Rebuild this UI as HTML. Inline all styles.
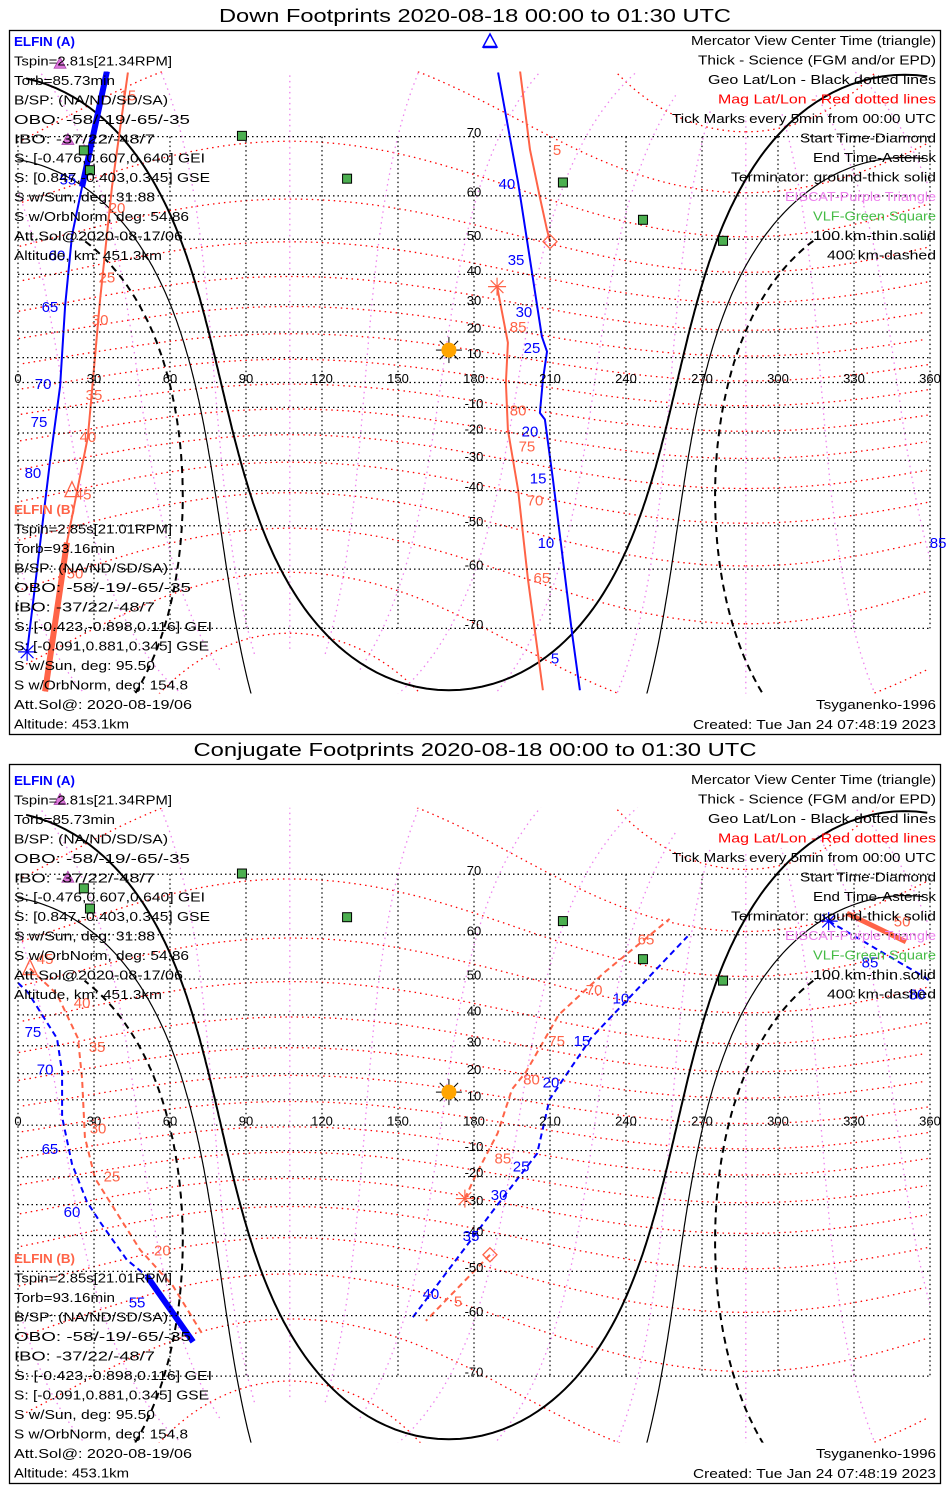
<!DOCTYPE html>
<html><head><meta charset="utf-8"><title>ELFIN footprints</title>
<style>
html,body{margin:0;padding:0;background:#fff;width:950px;height:1500px;overflow:hidden;}
svg{display:block;font-family:"Liberation Sans",sans-serif;}
</style></head>
<body>
<svg id="chart" width="950" height="1500" viewBox="0 0 950 1500" xmlns="http://www.w3.org/2000/svg">
<rect x="0" y="0" width="950" height="1500" fill="#fff"/>
<text x="475" y="22" text-anchor="middle" font-size="18" textLength="512" lengthAdjust="spacingAndGlyphs">Down Footprints 2020-08-18 00:00 to 01:30 UTC</text>
<text x="475" y="756" text-anchor="middle" font-size="18" textLength="563" lengthAdjust="spacingAndGlyphs">Conjugate Footprints 2020-08-18 00:00 to 01:30 UTC</text>
<rect x="9.5" y="30.5" width="931" height="704" fill="none" stroke="#000" stroke-width="1.3"/>
<rect x="9.5" y="764.5" width="931" height="719" fill="none" stroke="#000" stroke-width="1.3"/>
<polygon points="490,34 483,47 497,47" fill="none" stroke="#0000ff" stroke-width="1.5"/>
<line x1="483" y1="47" x2="497" y2="47" stroke="#0000ff" stroke-width="2.5"/>
<defs>
<clipPath id="clip1"><rect x="18" y="71.5" width="912" height="622"/></clipPath>
<clipPath id="clip2"><rect x="18" y="807.8" width="912" height="634.8"/></clipPath>
</defs>
<g id="panel1"></g>
<g id="panel2"></g>
</svg>
<script>
// ---------- axis data ----------
const lonTicks = [0,30,60,90,120,150,180,210,240,270,300,330,360];
const latTicks = [70,60,50,40,30,20,10,-10,-20,-30,-40,-50,-60,-70];

// ---------- Down footprints (lon, lat in degrees) ----------
const downAsciLon = [35.1,25.3];
const downAsciLat = [77.3,61.8];
const downAleftLon = [35.1,25.3,21.3,18.6,16.6,12.6,3.6];
const downAleftLat = [77.3,61.8,51,29.5,-1.5,-30.7,-73];
const downArightLon = [189.5,197.4,206.8,208.8,207.2,206,208,211.2,218.7,221.8];
const downArightLat = [77.2,62.6,18.2,12.4,1.1,-12.2,-14.8,-36.6,-70.6,-77];
const downBtopLon = [198.2,202.1,206.1,208.8,210];
const downBtopLat = [77.3,68.1,59.5,52.4,49.4];
const downBleftLon = [43.4,37.1,32.4,27.6,19.3,10.7];
const downBleftLat = [77.2,61.8,31.8,-21.4,-54.2,-77.1];
const downBsciLon = [19.3,10.7];
const downBsciLat = [-54.2,-77.1];
const downBbotLon = [189.1,193.4,192.6,193.4,197.4,201.3,207.2];
const downBbotLat = [36.1,15.9,0,-18.8,-39.8,-62.1,-77];
const downAlabels = ["5","10","15","20","25","30","35","40","55","60","65","70","75","80","85"];
const downAlabelLon = [212,208.4,205.3,202.1,202.9,199.7,196.6,193,19.7,15.4,12.6,9.9,8.3,5.9,363.2];
const downAlabelLat = [-73.7,-54.2,-36,-19.2,14,27.6,44.4,62.4,63.2,45.8,29.3,-0.5,-15.6,-34.2,-54.2];
const downBlabels = ["5","15","20","25","30","35","40","45","50","65","70","75","80","85"];
const downBlabelLon = [212.8,43.4,39.1,35.1,32.4,30,27.6,25.7,22.5,206.8,204.1,200.9,197.4,197.4];
const downBlabelLat = [68.1,75,57.6,39.2,24.6,-4.9,-21.4,-41,-60.8,-61.7,-42.8,-24.8,-11,22];
const downStart = [210,49.4];
const downEndB = [189.1,36.1];
const downEndA = [3.6,-73];
const downTriB = [21.3,-40];

// ---------- Conjugate footprints ----------
const conjArightLon = [155.9,189.3,204.9,209.8,226.2,264.3];
const conjArightLat = [-60.3,-30,-11.2,10.1,32.6,59.7];
const conjAleftLon = [0,3.9,15.4,17.4,17.4,21.3,27.2,32.4,43,50.9];
const conjAleftLat = [49,46.5,32.5,20.6,3.3,-15.2,-29,-35.8,-47,-51.2];
const conjAsciLon = [50.9,69.1];
const conjAsciLat = [-51.2,-64.8];
const conjAtopLon = [320,357.6,360];
const conjAtopLat = [62.6,50.6,49.5];
const conjBrightLon = [176.4,180.8,189.3,195,200.5,213.4,231.7,257.2];
const conjBrightLat = [-27.9,-19.2,-3.2,14.1,20.6,40,51.8,63];
const conjBstartLon = [186.3,161];
const conjBstartLat = [-45.6,-61];
const conjBleftLon = [4.7,15.4,23.7,25.3,26.4,30.4,48.2,61.2,73];
const conjBleftLat = [52.6,46,32.5,18,-4.8,-20.6,-44.2,-53.6,-63.6];
const conjBsciLon = [327.2,350.5];
const conjBsciLat = [64,58.6];
const conjAlabels = ["10","15","20","25","30","35","40","55","60","65","70","75","80","85"];
const conjAlabelLon = [238,222.6,210.4,198.6,189.9,178.8,163,47,21.3,12.6,10.7,5.9,354.9,336.3];
const conjAlabelLat = [45,31.8,16.8,-16,-26.5,-40,-55.3,-57.2,-32.4,-9.2,21.8,34.8,46,54.2];
const conjBlabels = ["5","20","25","30","35","40","45","50","65","70","75","80","85"];
const conjBlabelLon = [173.7,57,37.1,31.6,31.2,25.3,10.7,349,247.9,227.4,212.6,202.7,191.4];
const conjBlabelLat = [-57,-44.2,-19.8,-1.2,29.8,43.6,55,62.6,59.2,47.3,31.8,18,-12.8];
const conjStart = [186.3,-45.6];
const conjEndB = [176.4,-27.9];
const conjEndA = [320,62.6];
const conjTriB = [4.7,52.6];

// ---------- sites ----------
const vlfLon = [88.4,129.9,215.1,246.7,278.3,26,28.4];
const vlfLat = [70.1,63.3,62.6,54.8,49.6,68,64.8];
const eiscatLon = [16.6,19.7];
const eiscatLat = [78,69.6];
const subsolar = [13,170.1];

// ---------- text ----------
const infoA = ["ELFIN (A)","Tspin=2.81s[21.34RPM]","Torb=85.73min","B/SP: (NA/ND/SD/SA)","OBO: -58/-19/-65/-35","IBO: -37/22/-48/7","S: [-0.476,0.607,0.640] GEI","S: [0.847,-0.403,0.345] GSE","S w/Sun, deg: 31.88","S w/OrbNorm, deg: 54.86","Att.Sol@2020-08-17/06","Altitude, km: 451.3km"];
const infoAW = [61,158,101,154,176,141,191,196,141,175,169,148];
const infoB = ["ELFIN (B)","Tspin=2.85s[21.01RPM]","Torb=93.16min","B/SP: (NA/ND/SD/SA)","OBO: -58/-19/-65/-35","IBO: -37/22/-48/7","S: [-0.423,-0.898,0.116] GEI","S: [-0.091,0.881,0.345] GSE","S w/Sun, deg: 95.50","S w/OrbNorm, deg: 154.8","Att.Sol@: 2020-08-19/06","Altitude: 453.1km"];
const infoBW = [61,158,101,154,177,141,198,195,141,174,178,115];
const legend = ["Mercator View Center Time (triangle)","Thick - Science (FGM and/or EPD)","Geo Lat/Lon - Black dotted lines","Mag Lat/Lon - Red dotted lines","Tick Marks every 5min from 00:00 UTC","Start Time-Diamond","End Time-Asterisk","Terminator: ground-thick solid","EISCAT-Purple Triangle","VLF-Green Square","100 km-thin solid","400 km-dashed"];
const legendW = [245,238,228,218,264,136,123,205,151,123,123,109];
const legendC = ["#000","#000","#000","#ff0000","#000","#000","#000","#000","#ee82ee","#44bb44","#000","#000"];

const NS = "http://www.w3.org/2000/svg";
const BLUE = "#0000ff", ORANGE = "#ff6347";
const D2R = Math.PI/180;

function mk(tag, attrs, parent){
  const e = document.createElementNS(NS, tag);
  for (const k in attrs) e.setAttribute(k, attrs[k]);
  parent.appendChild(e);
  return e;
}
function proj(y0, k){
  return {
    x: lon => 18 + lon*912/360,
    y: lat => { const l = Math.max(-80, Math.min(80, lat)); return y0 - k*Math.log(Math.tan(Math.PI/4 + l*D2R/2)); }
  };
}
function pathD(lons, lats, P){
  let d = "";
  for (let i=0;i<lons.length;i++){
    const brk = i===0 || Math.abs(lons[i]-lons[i-1])>180 || lats[i]===null || lats[i-1]===null;
    if (lats[i]===null) continue;
    d += (brk ? "M" : "L") + P.x(lons[i]).toFixed(1) + "," + P.y(lats[i]).toFixed(1);
  }
  return d;
}
function mag2geo(mlat, mlon){
  const a = mlat*D2R, b = mlon*D2R;
  const x = Math.cos(a)*Math.cos(b), y = Math.cos(a)*Math.sin(b), z = Math.sin(a);
  const th = (90-80.65)*D2R, ph = 287.3*D2R;
  const x1 = x*Math.cos(th) + z*Math.sin(th), z1 = -x*Math.sin(th) + z*Math.cos(th), y1 = y;
  const x2 = x1*Math.cos(ph) - y1*Math.sin(ph), y2 = x1*Math.sin(ph) + y1*Math.cos(ph);
  let lon = Math.atan2(y2, x2)/D2R; lon = (lon+360)%360;
  return [Math.asin(z1)/D2R, lon];
}
function terminator(dist, maxLat){
  const la1 = subsolar[0]*D2R, lo1 = subsolar[1];
  const D = dist*D2R, lons = [], lats = [];
  for (let a=0;a<=360;a+=1){
    const al = a*D2R;
    const la2 = Math.asin(Math.sin(la1)*Math.cos(D) + Math.cos(la1)*Math.sin(D)*Math.cos(al));
    const dl = Math.atan2(Math.sin(al)*Math.sin(D)*Math.cos(la1), Math.cos(D) - Math.sin(la1)*Math.sin(la2))/D2R;
    let lon = ((lo1 + dl)%360 + 360)%360;
    const lat = la2/D2R;
    lons.push(lon);
    lats.push(lat > maxLat ? null : lat);
  }
  return [lons, lats];
}

function drawPanel(g, P, clipId, o){
  const map = mk("g", {"clip-path":"url(#"+clipId+")"}, g);
  
  
  for (let m=-80;m<=80;m+=10){
    const lons=[], lats=[];
    for (let ml=0; ml<=360; ml+=2){ const r = mag2geo(m, ml); lats.push(r[0]); lons.push(r[1]); }
    const e = mk("path", {d: pathD(lons,lats,P), fill:"none", stroke:"#ff0000", "stroke-width":1.3, "stroke-dasharray":"1.5 4"}, map);
    
    
  }
  for (let ml=0; ml<360; ml+=30){
    const lons=[], lats=[];
    for (let m=-82;m<=82;m+=2){ const r = mag2geo(m, ml); lats.push(r[0]); lons.push(r[1]); }
    const e = mk("path", {d: pathD(lons,lats,P), fill:"none", stroke:"#ee82ee", "stroke-width":1.3, "stroke-dasharray":"1.5 4"}, map);
    
    
  }
  latTicks.forEach(lt => {
    const e = mk("line", {x1:18, x2:930, y1:P.y(lt), y2:P.y(lt), stroke:"#000", "stroke-width":1.2, "stroke-dasharray":"1.5 3"}, g);
    
    
  });
  [P.y(0)].forEach(yy => {
    const e = mk("line", {x1:18, x2:930, y1:yy, y2:yy, stroke:"#000", "stroke-width":1.2, "stroke-dasharray":"1.5 3"}, g);
    
    
  });
  lonTicks.forEach(ln => {
    const e = mk("line", {x1:P.x(ln), x2:P.x(ln), y1:P.y(70), y2:P.y(-70), stroke:"#000", "stroke-width":1.2, "stroke-dasharray":"1.5 3"}, g);
    
    
    const t = mk("text", {x:P.x(ln), y:P.y(0)+0.5, "text-anchor":"middle", "font-size":13}, g);
    t.textContent = String(ln);
    
    
  });
  latTicks.forEach(lt => {
    const t = mk("text", {x:474, y:P.y(lt)+0.5, "text-anchor":"middle", "font-size":13}, g);
    t.textContent = String(lt);
    
    
  });
  const terms = [[90,90,2,null,'terminator-ground'],[100.1,90,1.2,null,'terminator-100km'],[109.8,50,2,"7 5",'terminator-400km']];
  terms.forEach(tm => {
    const r = terminator(tm[0], tm[1]);
    const e = mk("path", {d: pathD(r[0], r[1], P), fill:"none", stroke:"#000", "stroke-width":tm[2]}, map);
    if (tm[3]) e.setAttribute("stroke-dasharray", tm[3]);
    
    
  });
  const sx = P.x(subsolar[1]), sy = P.y(subsolar[0]);
  for (let i=0;i<8;i++){
    const a = i*Math.PI/4;
    const e = mk("line", {x1:sx+7*Math.cos(a), y1:sy+7*Math.sin(a), x2:sx+13*Math.cos(a), y2:sy+13*Math.sin(a), stroke:"#000", "stroke-width":1}, g);
    
    
  }
  const sun = mk("circle", {cx:sx, cy:sy, r:7.5, fill:"#ffa500"}, g);
  
  
  vlfLon.forEach((ln,i) => {
    const x = P.x(ln), y = P.y(vlfLat[i]);
    const e = mk("rect", {x:x-4.5, y:y-4.5, width:9, height:9, fill:"#4caf50", stroke:"#000", "stroke-width":1}, g);
    
    
  });
  eiscatLon.forEach((ln,i) => {
    const x = P.x(ln), y = P.y(eiscatLat[i]);
    const e = mk("polygon", {points:(x)+","+(y-6)+" "+(x-6)+","+(y+5)+" "+(x+6)+","+(y+5), fill:"#dd77dd", stroke:"#aa44aa", "stroke-width":0.8}, g);
    
    
  });
  o.tracks.forEach(tr => {
    const e = mk("path", {d: pathD(tr[0], tr[1], P), fill:"none", stroke:tr[2], "stroke-width":tr[3], "stroke-linejoin":"round"}, map);
    if (tr[4]) e.setAttribute("stroke-dasharray", tr[4]);
    
    
  });
  o.labels.forEach(lb => {
    lb[0].forEach((s,i) => {
      const t = mk("text", {x:P.x(lb[1][i]), y:P.y(lb[2][i])+5.5, "text-anchor":"middle", "font-size":15, fill:lb[3]}, g);
      t.textContent = s;
      
      
    });
  });
  { const x = P.x(o.start[0]), y = P.y(o.start[1]);
    const e = mk("polygon", {points:x+","+(y-7)+" "+(x+7)+","+y+" "+x+","+(y+7)+" "+(x-7)+","+y, fill:"none", stroke:ORANGE, "stroke-width":1.3}, g);
    
     }
  o.ends.forEach(en => {
    const x = P.x(en[0]), y = P.y(en[1]);
    for (let i=0;i<4;i++){
      const a = i*Math.PI/4;
      const e = mk("line", {x1:x-9*Math.cos(a), y1:y-9*Math.sin(a), x2:x+9*Math.cos(a), y2:y+9*Math.sin(a), stroke:en[2], "stroke-width":1.2}, g);
      
      
    }
  });
  { const x = P.x(o.tri[0]), y = P.y(o.tri[1]);
    const e = mk("polygon", {points:x+","+(y-9)+" "+(x-7)+","+(y+6)+" "+(x+7)+","+(y+6), fill:"none", stroke:ORANGE, "stroke-width":1.3}, g);
    
     }
  infoA.forEach((s,i) => {
    const t = mk("text", {x:14, y:o.aTop + i*19.45 + 5, "font-size":13, textLength:infoAW[i], lengthAdjust:"spacingAndGlyphs", fill: i===0?BLUE:"#000", "font-weight": i===0?"bold":"normal"}, g);
    t.textContent = s;
    
    
  });
  infoB.forEach((s,i) => {
    const t = mk("text", {x:14, y:o.bTop + i*19.5 + 5, "font-size":13, textLength:infoBW[i], lengthAdjust:"spacingAndGlyphs", fill: i===0?ORANGE:"#000", "font-weight": i===0?"bold":"normal"}, g);
    t.textContent = s;
    
    
  });
  legend.forEach((s,i) => {
    const t = mk("text", {x:936-legendW[i], y:o.aTop - 1 + i*19.5 + 5, "font-size":13, textLength:legendW[i], lengthAdjust:"spacingAndGlyphs", fill:legendC[i]}, g);
    t.textContent = s;
    
    
  });
  { const t = mk("text", {x:816, y:o.bTop+195+5, "font-size":13, textLength:120, lengthAdjust:"spacingAndGlyphs"}, g);
    t.textContent = "Tsyganenko-1996";
    
     }
  { const t = mk("text", {x:693, y:o.bTop+215+5, "font-size":13, textLength:243, lengthAdjust:"spacingAndGlyphs"}, g);
    t.textContent = "Created: Tue Jan 24 07:48:19 2023";
    
     }
}

const P1 = proj(382.5, 141.7);
const P2 = proj(1125.2, 144.6);

drawPanel(document.getElementById("panel1"), P1, "clip1", {
  tracks: [
    [downAleftLon, downAleftLat, BLUE, 2, null, 'elfin-a-track-west'],
    [downAsciLon, downAsciLat, BLUE, 6, null, 'elfin-a-science'],
    [downArightLon, downArightLat, BLUE, 2, null, 'elfin-a-track-east'],
    [downBtopLon, downBtopLat, ORANGE, 2, null, 'elfin-b-track-start'],
    [downBleftLon, downBleftLat, ORANGE, 2, null, 'elfin-b-track-west'],
    [downBsciLon, downBsciLat, ORANGE, 6, null, 'elfin-b-science'],
    [downBbotLon, downBbotLat, ORANGE, 2, null, 'elfin-b-track-end']
  ],
  labels: [
    [downAlabels, downAlabelLon, downAlabelLat, BLUE, 'elfin-a-time-label'],
    [downBlabels, downBlabelLon, downBlabelLat, ORANGE, 'elfin-b-time-label']
  ],
  start: downStart,
  ends: [[downEndB[0], downEndB[1], ORANGE], [downEndA[0], downEndA[1], BLUE]],
  tri: downTriB,
  aTop: 41, bTop: 509
});

drawPanel(document.getElementById("panel2"), P2, "clip2", {
  tracks: [
    [conjArightLon, conjArightLat, BLUE, 2, "6 4", 'elfin-a-track-east'],
    [conjAleftLon, conjAleftLat, BLUE, 2, "6 4", 'elfin-a-track-west'],
    [conjAsciLon, conjAsciLat, BLUE, 6, null, 'elfin-a-science'],
    [conjAtopLon, conjAtopLat, BLUE, 2, "6 4", 'elfin-a-track-end'],
    [conjBrightLon, conjBrightLat, ORANGE, 2, "6 4", 'elfin-b-track-end'],
    [conjBstartLon, conjBstartLat, ORANGE, 2, "6 4", 'elfin-b-track-start'],
    [conjBleftLon, conjBleftLat, ORANGE, 2, "6 4", 'elfin-b-track-west'],
    [conjBsciLon, conjBsciLat, ORANGE, 5, null, 'elfin-b-science']
  ],
  labels: [
    [conjAlabels, conjAlabelLon, conjAlabelLat, BLUE, 'elfin-a-time-label'],
    [conjBlabels, conjBlabelLon, conjBlabelLat, ORANGE, 'elfin-b-time-label']
  ],
  start: conjStart,
  ends: [[conjEndB[0], conjEndB[1], ORANGE], [conjEndA[0], conjEndA[1], BLUE]],
  tri: conjTriB,
  aTop: 780, bTop: 1258
});
</script>
</body></html>
